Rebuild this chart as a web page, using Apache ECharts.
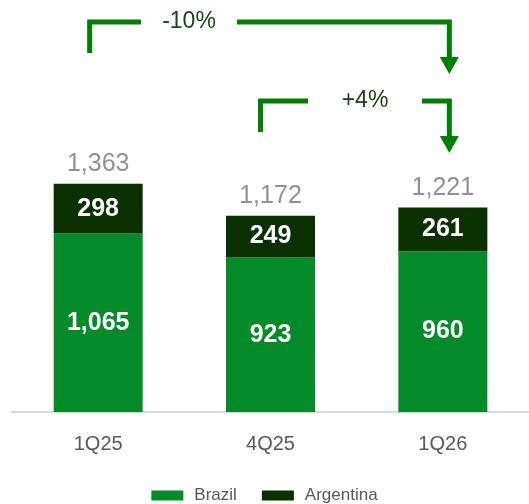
<!DOCTYPE html>
<html><head><meta charset="utf-8">
<script src="https://cdn.jsdelivr.net/npm/echarts@6/dist/echarts.min.js"></script>
<style>html,body{margin:0;padding:0;background:#fff}#c{width:529px;height:504px}</style>
</head><body><div id="c"></div>
<script>
const categories = ['1Q25', '4Q25', '1Q26'];
const brazil = [1065, 923, 960];
const argentina = [298, 249, 261];
const totalLabels = ['1,363', '1,172', '1,221'];
const changeLabels = ['-10%', '+4%'];

const totals = brazil.map((v, i) => v + argentina[i]);
const fmt = v => v.toLocaleString('en-US');
const FONT = 'Liberation Sans, Arial, sans-serif';

const chart = echarts.init(document.getElementById('c'));
chart.setOption({
  animation: false,
  grid: { left: 12, right: -3, top: 10, bottom: 92 },
  legend: {
    data: ['Brazil', 'Argentina'],
    bottom: -5, left: 'center',
    itemWidth: 32, itemHeight: 10, itemGap: 25,
    icon: 'rect',
    textStyle: { fontFamily: FONT, fontSize: 17, color: '#595959', padding: [0, 0, 0, 6] }
  },
  xAxis: {
    type: 'category', data: categories,
    axisLine: { lineStyle: { color: '#d9d9d9', width: 2 } },
    axisTick: { show: false },
    axisLabel: { fontFamily: FONT, fontSize: 20, color: '#595959', margin: 22 }
  },
  yAxis: { type: 'value', min: 0, max: 2400, show: false, splitLine: { show: false } },
  series: [
    {
      name: 'Brazil', type: 'bar', stack: 't', data: brazil, barWidth: 89,
      itemStyle: { color: '#038a29' },
      label: { show: true, position: 'inside', formatter: p => fmt(p.value),
        fontFamily: FONT, fontSize: 25, fontWeight: 'bold', color: '#fff' }
    },
    {
      name: 'Argentina', type: 'bar', stack: 't', data: argentina, barWidth: 89,
      itemStyle: { color: '#0a3000' },
      label: { show: true, position: 'inside', formatter: p => fmt(p.value),
        fontFamily: FONT, fontSize: 25, fontWeight: 'bold', color: '#fff' }
    },
    {
      name: 'Total', type: 'scatter', data: totals, symbolSize: 0,
      label: { show: true, position: 'top', distance: 7,
        formatter: p => totalLabels[p.dataIndex],
        fontFamily: FONT, fontSize: 25, color: '#767676' }
    }
  ]
});

const cx = i => chart.convertToPixel({ xAxisIndex: 0 }, categories[i]);
const G = '#008000';
function arrow(x0, yBot, yLine, xEnd, yHeadStart, yTip, textX, gapHalf, text) {
  return [
    { type: 'polyline', shape: { points: [[x0, yBot], [x0, yLine], [textX - gapHalf, yLine]] },
      style: { stroke: G, lineWidth: 5, fill: null, lineJoin: 'miter', lineCap: 'butt' } },
    { type: 'polyline', shape: { points: [[textX + gapHalf, yLine], [xEnd, yLine], [xEnd, yHeadStart + 1]] },
      style: { stroke: G, lineWidth: 5, fill: null, lineJoin: 'miter', lineCap: 'butt' } },
    { type: 'polygon', shape: { points: [[xEnd - 9.5, yHeadStart], [xEnd + 9.5, yHeadStart], [xEnd, yTip]] },
      style: { fill: G } },
    { type: 'text', x: textX, y: yLine, style: { text: text, fontFamily: FONT, fontSize: 23,
      fill: '#1a421a', align: 'center', verticalAlign: 'middle' } }
  ];
}
const xR = cx(2) + 6.5;
chart.setOption({
  graphic: [].concat(
    arrow(cx(0) - 8.5, 53, 22, xR, 57, 74, 189, 48, changeLabels[0]),
    arrow(cx(1) - 10, 132, 101, xR, 136, 153, 365, 57, changeLabels[1])
  )
});
</script></body></html>
